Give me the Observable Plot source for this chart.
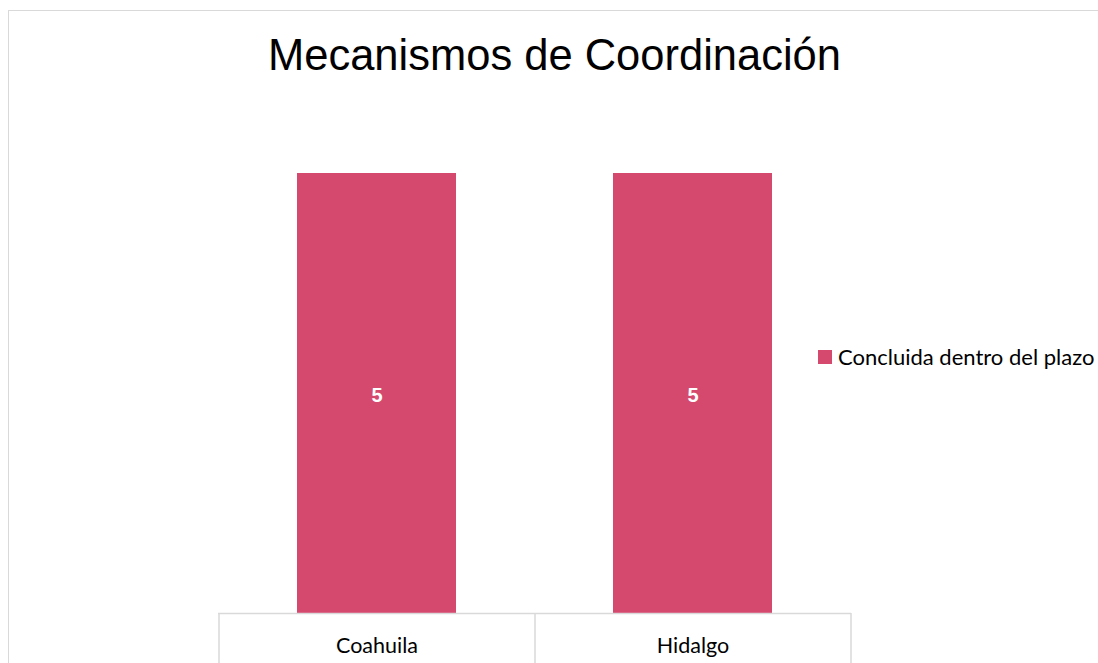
<!DOCTYPE html>
<html>
<head>
<meta charset="utf-8">
<script src="https://cdn.jsdelivr.net/npm/d3@7"></script>
<script src="https://cdn.jsdelivr.net/npm/@observablehq/plot@0.6"></script>
<style>
  html, body { margin: 0; padding: 0; background: #fff; }
  #wrap { position: relative; width: 1098px; height: 663px; overflow: hidden; }
  #frame { position: absolute; left: 8px; top: 10px; width: 1200px; height: 800px; border: 1.5px solid #d9d9d9; box-sizing: border-box; }
  #title { position: absolute; left: 0; width: 1109px; top: 31px; text-align: center; font-family: "Liberation Sans", Arial, sans-serif; font-size: 43.5px; color: #000; }
  #legend { position: absolute; left: 818px; top: 343px; font-family: Lato, "Open Sans", sans-serif; font-size: 22px; color: #000; display: flex; align-items: center; white-space: nowrap; }
  #legend .sw { width: 14px; height: 14px; margin-right: 6px; }
  #chart { position: absolute; left: 0; top: 0; }
</style>
</head>
<body>
<div id="wrap">
  <div id="frame"></div>
  <div id="title">Mecanismos de Coordinación</div>
  <div id="legend"></div>
  <div id="chart"></div>
</div>
<script>
const title = "Mecanismos de Coordinación";
const categories = ["Coahuila", "Hidalgo"];
const seriesName = "Concluida dentro del plazo";
const values = [5, 5];
const barColor = "#d6496f";
const gridColor = "#d9d9d9";

const data = categories.map((c, i) => ({category: c, value: values[i]}));

document.getElementById("legend").innerHTML =
  `<span class="sw" style="background:${barColor}"></span><span>${seriesName}</span>`;

const plot = Plot.plot({
  width: 1098,
  height: 663,
  marginLeft: 218,
  marginRight: 247,
  marginTop: 173,
  marginBottom: 50,
  x: {domain: categories, paddingInner: 0.497, paddingOuter: 0.2484, axis: null, label: null},
  y: {domain: [0, 5], axis: null, label: null},
  marks: [
    Plot.barY(data, {x: "category", y: "value", fill: barColor}),
    Plot.text(data, {x: "category", y: d => d.value / 2, text: d => String(d.value), fill: "#fff", fontWeight: "bold", fontSize: 20, fontFamily: "Liberation Sans, Arial, sans-serif", dy: 2}),
    Plot.ruleY([0], {stroke: gridColor, strokeWidth: 1.5}),
    Plot.axisX({tickSize: 50, tickFormat: () => "", label: null, dx: -158, stroke: gridColor, strokeWidth: 1.5, strokeOpacity: 1}),
    Plot.axisX({ticks: [categories[categories.length - 1]], tickSize: 50, tickFormat: () => "", label: null, dx: 158, stroke: gridColor, strokeWidth: 1.5, strokeOpacity: 1}),
    Plot.text(categories, {x: d => d, frameAnchor: "bottom", dy: 33, text: d => d, fontSize: 21.5, fontFamily: "Lato, Open Sans, sans-serif", fill: "#000", lineAnchor: "middle"})
  ]
});
document.getElementById("chart").appendChild(plot);
</script>
</body>
</html>
